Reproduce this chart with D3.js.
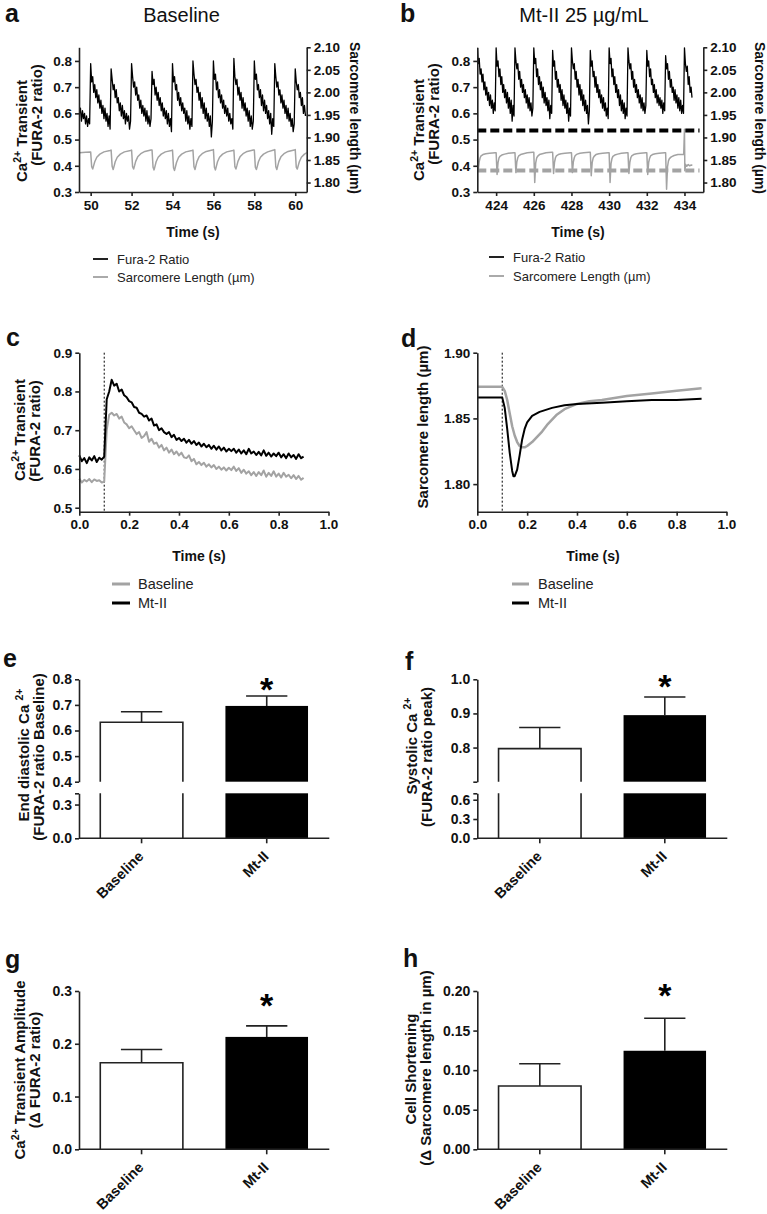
<!DOCTYPE html>
<html>
<head>
<meta charset="utf-8">
<title>Mt-II calcium transients and shortening</title>
<script src="https://cdn.jsdelivr.net/npm/d3@7"></script>
<style>
  body { margin: 0; background: #fff; }
  svg { display: block; font-family: "Liberation Sans", Arial, Helvetica, sans-serif; }
</style>
</head>
<body>
<svg width="767" height="1214"></svg>
<script>
// ---------------- data ----------------
// a: Fura-2 ratio at baseline, one sample every 0.05 s from 49.45 s
var furaAStart = 49.45, furaAStep = 0.05;
var furaA = [
  0.60,0.62,0.57,0.61,0.58,0.60,0.56,0.59,0.55,0.58,0.56,
  0.79,0.72,0.74,0.68,0.71,0.66,0.69,0.64,0.67,0.62,0.65,0.60,0.63,0.58,0.62,0.57,0.60,0.55,0.59,0.54,
  0.77,0.73,0.69,0.71,0.66,0.69,0.64,0.66,0.61,0.64,0.59,0.63,0.58,0.61,0.56,0.60,0.57,0.59,0.54,0.57,
  0.79,0.74,0.70,0.72,0.67,0.70,0.65,0.67,0.62,0.65,0.60,0.63,0.59,0.62,0.57,0.61,0.56,0.59,0.55,0.58,
  0.76,0.71,0.73,0.67,0.70,0.65,0.68,0.63,0.66,0.61,0.64,0.59,0.62,0.58,0.61,0.56,0.60,0.55,0.58,0.53,
  0.79,0.72,0.74,0.69,0.71,0.65,0.68,0.63,0.66,0.61,0.64,0.60,0.62,0.57,0.61,0.56,0.59,0.54,0.58,0.55,
  0.80,0.75,0.71,0.73,0.68,0.70,0.65,0.68,0.62,0.66,0.60,0.64,0.58,0.62,0.57,0.60,0.55,0.59,0.51,0.57,
  0.80,0.73,0.75,0.69,0.72,0.66,0.69,0.64,0.67,0.62,0.65,0.60,0.63,0.59,0.62,0.57,0.60,0.56,0.58,0.54,
  0.81,0.74,0.71,0.73,0.67,0.70,0.65,0.68,0.62,0.66,0.61,0.64,0.59,0.62,0.57,0.61,0.55,0.59,0.54,0.57,
  0.80,0.73,0.75,0.69,0.71,0.66,0.69,0.63,0.67,0.61,0.65,0.60,0.63,0.58,0.61,0.56,0.60,0.52,0.58,0.55,
  0.79,0.74,0.70,0.72,0.67,0.69,0.64,0.67,0.62,0.65,0.60,0.63,0.58,0.62,0.57,0.60,0.55,0.58,0.53,0.56,
  0.77,0.72,0.69,0.71,0.66,0.68,0.63,0.66,0.60,0.63,0.59
];
// a: sarcomere length, one row per beat, sampled at slOffsets after each stimulus
var slOffsets = [0, 0.05, 0.1, 0.15, 0.2, 0.3, 0.45, 0.65, 0.95];
var slLeadA = [[49.45, 1.866], [49.75, 1.867], [49.99, 1.868]];
var slBeatsA = [50, 51, 52, 53, 54, 55, 56, 57, 58, 59, 60];
var slA = [
  [1.868,1.835,1.830,1.838,1.846,1.856,1.863,1.868,1.871],
  [1.872,1.836,1.829,1.837,1.846,1.856,1.863,1.868,1.871],
  [1.872,1.835,1.830,1.838,1.847,1.857,1.864,1.869,1.872],
  [1.872,1.834,1.828,1.837,1.846,1.856,1.863,1.868,1.871],
  [1.872,1.833,1.827,1.836,1.845,1.856,1.863,1.868,1.871],
  [1.872,1.835,1.829,1.838,1.847,1.857,1.864,1.869,1.872],
  [1.873,1.834,1.828,1.837,1.846,1.856,1.863,1.868,1.871],
  [1.872,1.835,1.830,1.838,1.847,1.857,1.864,1.869,1.872],
  [1.872,1.834,1.829,1.837,1.846,1.856,1.863,1.868,1.872],
  [1.873,1.835,1.829,1.838,1.847,1.857,1.864,1.869,1.872],
  [1.873,1.834,1.830,1.838,1.846,1.856,1.863,1.868,1.871]
];

// b: Fura-2 ratio with Mt-II 25 ug/mL, one sample every 0.05 s from 423 s
var furaBStart = 423, furaBStep = 0.05;
var furaB = [
  0.85,0.79,0.81,0.75,0.77,0.72,0.75,0.69,0.72,0.67,0.70,0.65,0.68,0.63,0.67,0.62,0.65,0.60,0.64,0.61,
  0.85,0.78,0.80,0.74,0.77,0.71,0.74,0.68,0.71,0.66,0.69,0.64,0.68,0.62,0.66,0.60,0.65,0.57,0.63,0.59,
  0.85,0.80,0.77,0.79,0.73,0.76,0.70,0.73,0.68,0.71,0.66,0.69,0.64,0.67,0.62,0.66,0.61,0.64,0.59,0.62,
  0.85,0.79,0.81,0.74,0.77,0.71,0.74,0.69,0.72,0.66,0.70,0.64,0.68,0.63,0.66,0.61,0.65,0.58,0.63,0.60,
  0.84,0.78,0.80,0.73,0.76,0.70,0.73,0.68,0.71,0.65,0.69,0.63,0.67,0.62,0.65,0.60,0.64,0.57,0.62,0.59,
  0.85,0.80,0.77,0.79,0.73,0.76,0.70,0.73,0.67,0.71,0.65,0.69,0.63,0.67,0.61,0.65,0.60,0.63,0.56,0.61,
  0.84,0.78,0.80,0.74,0.76,0.70,0.74,0.68,0.71,0.66,0.69,0.64,0.67,0.62,0.66,0.61,0.64,0.59,0.62,0.58,
  0.85,0.79,0.81,0.74,0.77,0.71,0.74,0.68,0.71,0.66,0.69,0.63,0.67,0.61,0.65,0.60,0.64,0.58,0.62,0.59,
  0.85,0.80,0.77,0.79,0.73,0.76,0.70,0.73,0.68,0.71,0.66,0.69,0.64,0.67,0.62,0.66,0.61,0.64,0.60,0.63,
  0.84,0.78,0.80,0.74,0.77,0.71,0.73,0.68,0.71,0.66,0.69,0.64,0.67,0.63,0.66,0.62,0.65,0.60,0.64,0.61,
  0.82,0.77,0.79,0.73,0.76,0.70,0.73,0.68,0.70,0.65,0.69,0.64,0.67,0.62,0.66,0.61,0.65,0.60,0.63,0.60,
  0.85,0.79,0.76,0.78,0.71,0.74,0.68,0.70,0.66
];
var slBeatsB = [423, 424, 425, 426, 427, 428, 429, 430, 431, 432, 433];
var slB = [
  [1.866,1.826,1.846,1.855,1.859,1.862,1.864,1.865,1.866],
  [1.866,1.818,1.844,1.854,1.858,1.861,1.863,1.865,1.866],
  [1.866,1.822,1.846,1.855,1.859,1.862,1.864,1.866,1.867],
  [1.867,1.800,1.843,1.854,1.858,1.862,1.864,1.866,1.867],
  [1.867,1.820,1.845,1.855,1.859,1.862,1.864,1.865,1.866],
  [1.866,1.822,1.846,1.855,1.860,1.863,1.865,1.866,1.867],
  [1.867,1.815,1.844,1.854,1.858,1.862,1.864,1.865,1.866],
  [1.866,1.800,1.842,1.853,1.858,1.861,1.863,1.865,1.866],
  [1.866,1.820,1.845,1.855,1.859,1.862,1.864,1.865,1.866],
  [1.866,1.818,1.845,1.854,1.859,1.862,1.864,1.865,1.866],
  [1.866,1.785,1.835,1.848,1.853,1.857,1.860,1.862,1.863]
];
var slTailB = [[433.96,1.862],[434.0,1.918],[434.02,1.826],[434.06,1.840],[434.12,1.836],
               [434.2,1.840],[434.28,1.837],[434.36,1.839],[434.42,1.838]];
var diastolicRefB = 0.535;    // dashed black line, left axis
var shorteningRefB = 1.8265;  // dashed grey line, right axis
var refSpanB = [423, 434.8];

// c: averaged Fura-2 transient, one sample every 0.01 s from 0
var avgStep = 0.01;
var caBase = [
  0.575,0.565,0.572,0.568,0.574,0.566,0.573,0.569,0.571,0.565,0.567,
  0.700,0.740,0.745,0.738,0.742,0.730,0.735,0.720,0.715,0.705,
  0.710,0.700,0.690,0.695,0.680,0.685,0.695,0.670,0.678,0.665,
  0.668,0.655,0.662,0.648,0.655,0.642,0.650,0.638,0.645,0.635,
  0.642,0.630,0.628,0.635,0.620,0.626,0.612,0.618,0.610,0.616,
  0.606,0.612,0.604,0.610,0.600,0.606,0.598,0.604,0.596,0.603,
  0.597,0.606,0.595,0.602,0.590,0.598,0.588,0.594,0.584,0.592,
  0.582,0.592,0.584,0.596,0.580,0.590,0.582,0.594,0.580,0.588,
  0.578,0.590,0.580,0.585,0.576,0.584,0.574,0.582,0.572,0.577
];
var caMt = [
  0.635,0.620,0.628,0.615,0.630,0.622,0.633,0.618,0.629,0.624,0.632,
  0.780,0.800,0.830,0.815,0.820,0.800,0.805,0.790,0.785,0.775,
  0.772,0.760,0.758,0.745,0.742,0.735,0.738,0.725,0.730,0.712,
  0.715,0.700,0.705,0.695,0.690,0.695,0.682,0.688,0.675,0.680,
  0.672,0.678,0.668,0.675,0.665,0.672,0.662,0.668,0.658,0.665,
  0.656,0.662,0.652,0.660,0.650,0.658,0.648,0.655,0.645,0.652,
  0.646,0.652,0.642,0.650,0.640,0.648,0.638,0.652,0.640,0.645,
  0.636,0.644,0.635,0.648,0.634,0.642,0.632,0.640,0.633,0.642,
  0.630,0.638,0.628,0.640,0.630,0.636,0.626,0.638,0.628,0.632
];
var stimTime = 0.1;

// d: averaged sarcomere length [time s, length um]
var slAvgBase = [[0,1.874],[0.1,1.874],[0.11,1.871],[0.12,1.864],[0.13,1.854],[0.14,1.844],[0.15,1.837],
  [0.16,1.832],[0.17,1.829],[0.18,1.828],[0.19,1.828],[0.2,1.829],[0.22,1.832],[0.24,1.836],[0.26,1.840],
  [0.28,1.845],[0.3,1.849],[0.32,1.853],[0.35,1.857],[0.4,1.861],[0.45,1.863],[0.5,1.864],[0.6,1.867],
  [0.7,1.869],[0.8,1.871],[0.9,1.873]];
var slAvgMt = [[0,1.866],[0.1,1.866],[0.11,1.858],[0.12,1.842],[0.13,1.824],[0.14,1.810],[0.145,1.806],
  [0.15,1.806],[0.16,1.811],[0.17,1.822],[0.18,1.834],[0.19,1.842],[0.2,1.847],[0.22,1.852],[0.25,1.855],
  [0.3,1.858],[0.35,1.860],[0.4,1.861],[0.5,1.862],[0.6,1.863],[0.7,1.864],[0.8,1.864],[0.9,1.865]];

// e-h: group means and SEM
var groups = ["Baseline", "Mt-II"];
var diastolicMean = [0.632, 0.696], diastolicSem = [0.041, 0.039];
var systolicMean = [0.797, 0.895], systolicSem = [0.062, 0.053];
var amplitudeMean = [0.164, 0.213], amplitudeSem = [0.025, 0.021];
var shorteningMean = [0.080, 0.1245], shorteningSem = [0.028, 0.041];
var starAt = [0.79, 1.0, 0.287, 0.204];

// ticks
var ticksA = [50, 52, 54, 56, 58, 60];
var ticksB = [424, 426, 428, 430, 432, 434];
var ratioTicks = [0.3, 0.4, 0.5, 0.6, 0.7, 0.8];
var slTicks = [1.80, 1.85, 1.90, 1.95, 2.00, 2.05, 2.10];
var timeTicks = [0, 0.2, 0.4, 0.6, 0.8, 1.0];
var caAvgTicks = [0.5, 0.6, 0.7, 0.8, 0.9];
var slAvgTicks = [1.80, 1.85, 1.90];

// ---------------- drawing ----------------
var svg = d3.select("svg");
var AXIS = "#222", GREY = "#a3a3a3";
var LABEL = 15;

function styleAxis(sel, size) {
  sel.attr("font-family", null).attr("font-size", size || 13).attr("font-weight", "bold");
  sel.select(".domain").attr("stroke", AXIS).attr("stroke-width", 1.6);
  sel.selectAll(".tick line").attr("stroke", AXIS).attr("stroke-width", 1.6);
  sel.selectAll(".tick text").attr("fill", "#111");
}

// text with optional superscript parts ("^2+")
function addText(x, y, parts, o) {
  o = o || {};
  var size = o.size || LABEL;
  var t = svg.append("text")
      .attr("transform", "translate(" + x + "," + y + ")" + (o.rotate ? " rotate(" + o.rotate + ")" : ""))
      .attr("text-anchor", o.anchor || "middle")
      .attr("font-size", size)
      .attr("font-weight", o.weight || "bold")
      .attr("fill", "#111");
  var raised = false;
  [].concat(parts).forEach(function(p) {
    if (p.charAt(0) === "^") {
      t.append("tspan").attr("font-size", size * 0.7).attr("dy", -size * 0.4).text(p.slice(1));
      raised = true;
    } else {
      t.append("tspan").attr("dy", raised ? size * 0.4 : 0).text(p);
      raised = false;
    }
  });
  return t;
}

function series(start, step, vals) {
  return vals.map(function(v, i) { return [start + i * step, v]; });
}
function beatSeries(lead, beatTimes, rows, tail) {
  var pts = lead.slice();
  beatTimes.forEach(function(b, i) {
    rows[i].forEach(function(v, j) { pts.push([b + slOffsets[j], v]); });
  });
  return pts.concat(tail || []);
}
function drawLine(g, pts, x, y, color, w, dash) {
  g.append("path").datum(pts)
      .attr("fill", "none").attr("stroke", color).attr("stroke-width", w)
      .attr("stroke-linejoin", "round")
      .attr("stroke-dasharray", dash || null)
      .attr("d", d3.line().x(function(d) { return x(d[0]); }).y(function(d) { return y(d[1]); }));
}
function clipRect(id, x0, y0, x1, y1) {
  svg.append("clipPath").attr("id", id).append("rect")
      .attr("x", x0).attr("y", y0).attr("width", x1 - x0).attr("height", y1 - y0);
}
function legend(x, y, items, size, w, gap) {
  items.forEach(function(it, i) {
    var yy = y + i * gap;
    svg.append("line").attr("x1", x).attr("x2", x + it.len).attr("y1", yy).attr("y2", yy)
        .attr("stroke", it.color).attr("stroke-width", w);
    svg.append("text").attr("x", x + it.len + it.pad).attr("y", yy).attr("dy", "0.35em")
        .attr("font-size", size).attr("fill", "#222").text(it.label);
  });
}

// ---- panel a / b : raw traces, dual axis ----
function tracePanel(p) {
  var x = d3.scaleLinear().domain(p.xd).range([p.x0, p.x1]);
  var y = d3.scaleLinear().domain([0.3, 0.852]).range([192, 47.3]);
  var y2 = d3.scaleLinear().domain([1.779, 2.10]).range([192, 47.3]);
  clipRect(p.id, p.x0, 40, p.x1, 192);
  var g = svg.append("g").attr("clip-path", "url(#" + p.id + ")");
  drawLine(g, p.sl, x, y2, GREY, 1.5);
  drawLine(g, p.fura, x, y, "#000", 1.3);
  if (p.refs) {
    drawLine(g, [[refSpanB[0], diastolicRefB], [refSpanB[1], diastolicRefB]], x, y, "#000", 4, "9,4");
    drawLine(g, [[refSpanB[0], shorteningRefB], [refSpanB[1], shorteningRefB]], x, y2, GREY, 4, "9,4");
  }
  svg.append("g").attr("transform", "translate(" + p.x0 + ",0)")
      .call(d3.axisLeft(y).tickValues(ratioTicks).tickFormat(d3.format(".1f")).tickSize(4).tickPadding(3).tickSizeOuter(0))
      .call(styleAxis, 13.5);
  svg.append("g").attr("transform", "translate(" + p.x1 + ",0)")
      .call(d3.axisRight(y2).tickValues(slTicks).tickFormat(d3.format(".2f")).tickSize(4).tickPadding(3).tickSizeOuter(0))
      .call(styleAxis, 13.5);
  svg.append("g").attr("transform", "translate(0,192)")
      .call(d3.axisBottom(x).tickValues(p.ticks).tickFormat(d3.format("d")).tickSize(4).tickPadding(4).tickSizeOuter(0))
      .call(styleAxis, 13.5);
}

tracePanel({ id: "clipA", xd: [49.43, 60.56], x0: 79, x1: 306.7, ticks: ticksA,
  fura: series(furaAStart, furaAStep, furaA), sl: beatSeries(slLeadA, slBeatsA, slA) });
tracePanel({ id: "clipB", xd: [423, 435], x0: 477.3, x1: 703.3, ticks: ticksB, refs: true,
  fura: series(furaBStart, furaBStep, furaB), sl: beatSeries([], slBeatsB, slB, slTailB) });

addText(181.5, 22, "Baseline", { size: 20, weight: "normal" });
addText(584, 22, "Mt-II 25 \u00b5g/mL", { size: 20, weight: "normal" });
addText(27, 131, ["Ca", "^2+", " Transient"], { rotate: -90 });
addText(42, 115, "(FURA-2 ratio)", { rotate: -90 });
addText(424, 130, ["Ca", "^2+", " Transient"], { rotate: -90 });
addText(439, 114, "(FURA-2 ratio)", { rotate: -90 });
addText(350, 118, "Sarcomere length (\u00b5m)", { rotate: 90, size: 14 });
addText(755, 118, "Sarcomere length (\u00b5m)", { rotate: 90, size: 14 });
addText(193, 237, "Time (s)", { size: 14 });
addText(578, 237, "Time (s)", { size: 14 });
legend(93, 259, [{ label: "Fura-2 Ratio", color: "#222", len: 15, pad: 9 },
                 { label: "Sarcomere Length (\u00b5m)", color: "#aaa", len: 15, pad: 9 }], 13, 2, 18);
legend(489, 257, [{ label: "Fura-2 Ratio", color: "#222", len: 15, pad: 9 },
                  { label: "Sarcomere Length (\u00b5m)", color: "#aaa", len: 15, pad: 9 }], 13, 2, 19);

// ---- panel c / d : averaged transients ----
function avgPanel(p) {
  var x = d3.scaleLinear().domain([0, 1]).range([p.x0, p.x0 + 249.2]);
  var y = d3.scaleLinear().domain(p.yd).range([511.7, 352.7]);
  svg.append("line").attr("x1", x(stimTime)).attr("x2", x(stimTime))
      .attr("y1", 352.7).attr("y2", 511.7)
      .attr("stroke", "#000").attr("stroke-width", 1).attr("stroke-dasharray", "2,2");
  drawLine(svg, p.base, x, y, GREY, p.wBase);
  drawLine(svg, p.mt, x, y, "#000", 2);
  svg.append("g").attr("transform", "translate(" + p.x0 + ",0)")
      .call(d3.axisLeft(y).tickValues(p.ticks).tickFormat(d3.format(p.fmt)).tickSize(4).tickPadding(3).tickSizeOuter(0))
      .call(styleAxis, 13.5);
  svg.append("g").attr("transform", "translate(0,511.7)")
      .call(d3.axisBottom(x).tickValues(timeTicks).tickFormat(d3.format(".1f")).tickSize(4).tickPadding(4).tickSizeOuter(0))
      .call(styleAxis, 13.5);
}

avgPanel({ x0: 79.3, yd: [0.4897, 0.9], ticks: caAvgTicks, fmt: ".1f", wBase: 2,
  base: series(0, avgStep, caBase), mt: series(0, avgStep, caMt) });
avgPanel({ x0: 477.3, yd: [1.779, 1.90], ticks: slAvgTicks, fmt: ".2f", wBase: 2.5,
  base: slAvgBase, mt: slAvgMt });

addText(25, 430, ["Ca", "^2+", " Transient"], { rotate: -90 });
addText(40, 431, "(FURA-2 ratio)", { rotate: -90 });
addText(428, 427, "Sarcomere length (\u00b5m)", { rotate: -90 });
addText(199, 561, "Time (s)", { size: 14 });
addText(593, 561, "Time (s)", { size: 14 });
legend(112, 584, [{ label: "Baseline", color: GREY, len: 18, pad: 8 },
                  { label: "Mt-II", color: "#000", len: 18, pad: 8 }], 14.5, 3, 19);
legend(512, 584, [{ label: "Baseline", color: GREY, len: 17, pad: 9 },
                  { label: "Mt-II", color: "#000", len: 17, pad: 9 }], 14.5, 3, 19);

// ---- panels e-h : bar charts (e, f with a broken y axis) ----
function barPanel(p) {
  var xb = d3.scaleBand().domain(groups).range(p.xr).paddingInner(0.34).paddingOuter(0.17);
  var bw = xb.bandwidth();
  var g = svg.append("g");
  p.segs.forEach(function(s) {
    var lo = s.y.domain()[0], hi = s.y.domain()[1];
    groups.forEach(function(k, i) {
      var m = p.mean[i];
      if (m <= lo) return;
      var x0 = xb(k), x1 = x0 + bw;
      var yt = s.y(Math.min(m, hi)), yb = s.y(lo);
      if (i === 1) {
        g.append("rect").attr("x", x0).attr("y", yt).attr("width", bw).attr("height", yb - yt).attr("fill", "#000");
      } else {
        var d = "M" + x0 + "," + yb + "V" + yt + (m <= hi ? "H" + x1 : "M" + x1 + "," + yt) + "V" + yb;
        g.append("path").attr("d", d).attr("fill", "#fff").attr("stroke", AXIS).attr("stroke-width", 1.6);
      }
      if (m <= hi) {
        var cx = x0 + bw / 2, ye = s.y(m + p.sem[i]), cap = bw * 0.25;
        g.append("path").attr("fill", "none").attr("stroke", AXIS).attr("stroke-width", 1.6)
            .attr("d", "M" + cx + "," + yt + "V" + ye + "M" + (cx - cap) + "," + ye + "H" + (cx + cap));
      }
    });
    svg.append("g").attr("transform", "translate(" + p.xr[0] + ",0)")
        .call(d3.axisLeft(s.y).tickValues(s.ticks).tickSize(4).tickPadding(3).tickSizeOuter(0)
          .tickFormat(function(v) { return s.blank && s.blank.indexOf(v) >= 0 ? "" : d3.format(p.fmt)(v); }))
        .call(styleAxis, 14);
  });
  var top = p.segs[0].y;
  svg.append("text").attr("x", xb("Mt-II") + bw / 2).attr("y", top(p.star) + 19)
      .attr("text-anchor", "middle").attr("font-size", 34).attr("font-weight", "bold").text("*");
  var base = p.segs[p.segs.length - 1].y;
  var ax = svg.append("g").attr("transform", "translate(0," + base(0) + ")")
      .call(d3.axisBottom(xb).tickSize(5).tickSizeOuter(0));
  ax.call(styleAxis, 14.5);
  ax.select(".domain").attr("d", "M" + p.xr[0] + ",0H" + p.xr[1]);
  ax.selectAll(".tick text").attr("x", 0).attr("y", 0).attr("dy", 0)
      .attr("text-anchor", "end").attr("transform", "translate(3,19) rotate(-45)");
}

barPanel({ xr: [79, 329.3], mean: diastolicMean, sem: diastolicSem, star: starAt[0], fmt: ".1f",
  segs: [{ y: d3.scaleLinear().domain([0.4, 0.8]).range([781.7, 679.3]), ticks: [0.4, 0.5, 0.6, 0.7, 0.8] },
         { y: d3.scaleLinear().domain([0, 0.4]).range([838.3, 793.3]), ticks: [0, 0.3, 0.4], blank: [0.4] }] });
barPanel({ xr: [477.3, 727.3], mean: systolicMean, sem: systolicSem, star: starAt[1], fmt: ".1f",
  segs: [{ y: d3.scaleLinear().domain([0.7, 1.0]).range([781.7, 679.3]), ticks: [0.7, 0.8, 0.9, 1.0], blank: [0.7] },
         { y: d3.scaleLinear().domain([0, 0.7]).range([838.3, 793.3]), ticks: [0, 0.3, 0.6, 0.7], blank: [0.7] }] });
barPanel({ xr: [79, 329.3], mean: amplitudeMean, sem: amplitudeSem, star: starAt[2], fmt: ".1f",
  segs: [{ y: d3.scaleLinear().domain([0, 0.3]).range([1149.3, 991]), ticks: [0, 0.1, 0.2, 0.3] }] });
barPanel({ xr: [477.3, 727.3], mean: shorteningMean, sem: shorteningSem, star: starAt[3], fmt: ".2f",
  segs: [{ y: d3.scaleLinear().domain([0, 0.2]).range([1149.3, 991]), ticks: [0, 0.05, 0.1, 0.15, 0.2] }] });

addText(29, 755, ["End diastolic Ca ", "^2+"], { rotate: -90 });
addText(44, 757, "(FURA-2 ratio Baseline)", { rotate: -90 });
addText(417, 746, ["Systolic Ca ", "^2+"], { rotate: -90 });
addText(432, 757, "(FURA-2 ratio peak)", { rotate: -90 });
addText(25, 1070, ["Ca", "^2+", " Transient Amplitude"], { rotate: -90 });
addText(40, 1070, "(\u0394 FURA-2 ratio)", { rotate: -90 });
addText(416, 1069, "Cell Shortening", { rotate: -90 });
addText(431, 1068, "(\u0394 Sarcomere length in \u00b5m)", { rotate: -90 });

// panel letters
[["a", 5, 22], ["b", 400, 22], ["c", 6, 346], ["d", 401, 347],
 ["e", 3, 667], ["f", 405, 670], ["g", 5, 968], ["h", 403, 967]].forEach(function(l) {
  addText(l[1], l[2], l[0], { size: 25, anchor: "start" });
});
</script>
</body>
</html>
